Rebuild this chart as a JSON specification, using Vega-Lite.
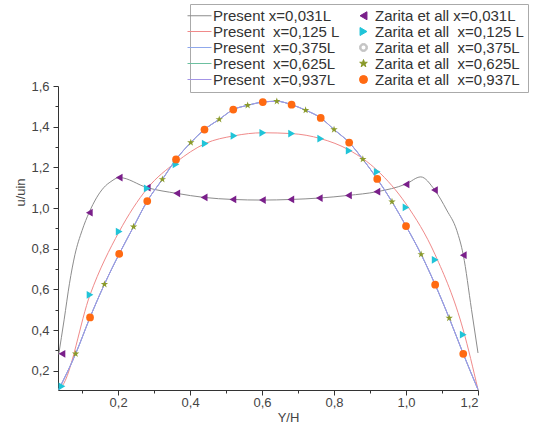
{
  "$schema": "https://vega.github.io/schema/vega-lite/v6.json",
  "width": 420,
  "height": 304,
  "autosize": {"type": "none"},
  "padding": {"left": 58, "top": 86, "right": 62, "bottom": 37},
  "background": "white",
  "config": {"view": {"stroke": null}, "font": "Liberation Sans"},
  "datasets": {
    "lines": [
      {"series": "Present x=0,031L", "x": 0.035, "y": 0.28},
      {"series": "Present x=0,031L", "x": 0.05, "y": 0.45},
      {"series": "Present x=0,031L", "x": 0.065, "y": 0.63},
      {"series": "Present x=0,031L", "x": 0.08, "y": 0.77},
      {"series": "Present x=0,031L", "x": 0.1, "y": 0.89},
      {"series": "Present x=0,031L", "x": 0.12, "y": 0.98},
      {"series": "Present x=0,031L", "x": 0.14, "y": 1.05},
      {"series": "Present x=0,031L", "x": 0.16, "y": 1.1},
      {"series": "Present x=0,031L", "x": 0.18, "y": 1.13},
      {"series": "Present x=0,031L", "x": 0.203, "y": 1.15},
      {"series": "Present x=0,031L", "x": 0.281, "y": 1.1},
      {"series": "Present x=0,031L", "x": 0.363, "y": 1.072},
      {"series": "Present x=0,031L", "x": 0.439, "y": 1.052},
      {"series": "Present x=0,031L", "x": 0.519, "y": 1.042},
      {"series": "Present x=0,031L", "x": 0.601, "y": 1.039},
      {"series": "Present x=0,031L", "x": 0.68, "y": 1.042},
      {"series": "Present x=0,031L", "x": 0.759, "y": 1.049},
      {"series": "Present x=0,031L", "x": 0.84, "y": 1.062},
      {"series": "Present x=0,031L", "x": 0.919, "y": 1.08},
      {"series": "Present x=0,031L", "x": 1.0, "y": 1.118},
      {"series": "Present x=0,031L", "x": 1.041, "y": 1.153},
      {"series": "Present x=0,031L", "x": 1.079, "y": 1.09},
      {"series": "Present x=0,031L", "x": 1.113, "y": 0.99},
      {"series": "Present x=0,031L", "x": 1.141, "y": 0.89},
      {"series": "Present x=0,031L", "x": 1.159, "y": 0.77},
      {"series": "Present x=0,031L", "x": 1.182, "y": 0.5},
      {"series": "Present x=0,031L", "x": 1.2, "y": 0.287},

      {"series": "Present\u00a0 x=0,125 L", "x": 0.035, "y": 0.107},
      {"series": "Present\u00a0 x=0,125 L", "x": 0.044, "y": 0.123},
      {"series": "Present\u00a0 x=0,125 L", "x": 0.122, "y": 0.573},
      {"series": "Present\u00a0 x=0,125 L", "x": 0.203, "y": 0.884},
      {"series": "Present\u00a0 x=0,125 L", "x": 0.281, "y": 1.096},
      {"series": "Present\u00a0 x=0,125 L", "x": 0.361, "y": 1.225},
      {"series": "Present\u00a0 x=0,125 L", "x": 0.442, "y": 1.317},
      {"series": "Present\u00a0 x=0,125 L", "x": 0.522, "y": 1.355},
      {"series": "Present\u00a0 x=0,125 L", "x": 0.602, "y": 1.37},
      {"series": "Present\u00a0 x=0,125 L", "x": 0.682, "y": 1.366},
      {"series": "Present\u00a0 x=0,125 L", "x": 0.763, "y": 1.341},
      {"series": "Present\u00a0 x=0,125 L", "x": 0.842, "y": 1.285},
      {"series": "Present\u00a0 x=0,125 L", "x": 0.92, "y": 1.185},
      {"series": "Present\u00a0 x=0,125 L", "x": 1.0, "y": 1.02},
      {"series": "Present\u00a0 x=0,125 L", "x": 1.081, "y": 0.77},
      {"series": "Present\u00a0 x=0,125 L", "x": 1.159, "y": 0.4},
      {"series": "Present\u00a0 x=0,125 L", "x": 1.2, "y": 0.107},

      {"series": "Present\u00a0 x=0,625L", "x": 0.035, "y": 0.107},
      {"series": "Present\u00a0 x=0,625L", "x": 0.082, "y": 0.283},
      {"series": "Present\u00a0 x=0,625L", "x": 0.122, "y": 0.462},
      {"series": "Present\u00a0 x=0,625L", "x": 0.162, "y": 0.625},
      {"series": "Present\u00a0 x=0,625L", "x": 0.203, "y": 0.774},
      {"series": "Present\u00a0 x=0,625L", "x": 0.243, "y": 0.908},
      {"series": "Present\u00a0 x=0,625L", "x": 0.281, "y": 1.034},
      {"series": "Present\u00a0 x=0,625L", "x": 0.323, "y": 1.141},
      {"series": "Present\u00a0 x=0,625L", "x": 0.361, "y": 1.239},
      {"series": "Present\u00a0 x=0,625L", "x": 0.402, "y": 1.322},
      {"series": "Present\u00a0 x=0,625L", "x": 0.44, "y": 1.386},
      {"series": "Present\u00a0 x=0,625L", "x": 0.481, "y": 1.436},
      {"series": "Present\u00a0 x=0,625L", "x": 0.52, "y": 1.484},
      {"series": "Present\u00a0 x=0,625L", "x": 0.56, "y": 1.505},
      {"series": "Present\u00a0 x=0,625L", "x": 0.602, "y": 1.521},
      {"series": "Present\u00a0 x=0,625L", "x": 0.641, "y": 1.525},
      {"series": "Present\u00a0 x=0,625L", "x": 0.682, "y": 1.508},
      {"series": "Present\u00a0 x=0,625L", "x": 0.721, "y": 1.481},
      {"series": "Present\u00a0 x=0,625L", "x": 0.763, "y": 1.443},
      {"series": "Present\u00a0 x=0,625L", "x": 0.8, "y": 1.386},
      {"series": "Present\u00a0 x=0,625L", "x": 0.842, "y": 1.322},
      {"series": "Present\u00a0 x=0,625L", "x": 0.88, "y": 1.24},
      {"series": "Present\u00a0 x=0,625L", "x": 0.92, "y": 1.143},
      {"series": "Present\u00a0 x=0,625L", "x": 0.961, "y": 1.031},
      {"series": "Present\u00a0 x=0,625L", "x": 1.0, "y": 0.911},
      {"series": "Present\u00a0 x=0,625L", "x": 1.042, "y": 0.772},
      {"series": "Present\u00a0 x=0,625L", "x": 1.081, "y": 0.623},
      {"series": "Present\u00a0 x=0,625L", "x": 1.12, "y": 0.459},
      {"series": "Present\u00a0 x=0,625L", "x": 1.159, "y": 0.283},
      {"series": "Present\u00a0 x=0,625L", "x": 1.2, "y": 0.107},

      {"series": "Present\u00a0 x=0,375L", "x": 0.035, "y": 0.107},
      {"series": "Present\u00a0 x=0,375L", "x": 0.082, "y": 0.283},
      {"series": "Present\u00a0 x=0,375L", "x": 0.122, "y": 0.462},
      {"series": "Present\u00a0 x=0,375L", "x": 0.162, "y": 0.625},
      {"series": "Present\u00a0 x=0,375L", "x": 0.203, "y": 0.774},
      {"series": "Present\u00a0 x=0,375L", "x": 0.243, "y": 0.908},
      {"series": "Present\u00a0 x=0,375L", "x": 0.281, "y": 1.034},
      {"series": "Present\u00a0 x=0,375L", "x": 0.323, "y": 1.141},
      {"series": "Present\u00a0 x=0,375L", "x": 0.361, "y": 1.239},
      {"series": "Present\u00a0 x=0,375L", "x": 0.402, "y": 1.322},
      {"series": "Present\u00a0 x=0,375L", "x": 0.44, "y": 1.386},
      {"series": "Present\u00a0 x=0,375L", "x": 0.481, "y": 1.436},
      {"series": "Present\u00a0 x=0,375L", "x": 0.52, "y": 1.484},
      {"series": "Present\u00a0 x=0,375L", "x": 0.56, "y": 1.505},
      {"series": "Present\u00a0 x=0,375L", "x": 0.602, "y": 1.521},
      {"series": "Present\u00a0 x=0,375L", "x": 0.641, "y": 1.525},
      {"series": "Present\u00a0 x=0,375L", "x": 0.682, "y": 1.508},
      {"series": "Present\u00a0 x=0,375L", "x": 0.721, "y": 1.481},
      {"series": "Present\u00a0 x=0,375L", "x": 0.763, "y": 1.443},
      {"series": "Present\u00a0 x=0,375L", "x": 0.8, "y": 1.386},
      {"series": "Present\u00a0 x=0,375L", "x": 0.842, "y": 1.322},
      {"series": "Present\u00a0 x=0,375L", "x": 0.88, "y": 1.24},
      {"series": "Present\u00a0 x=0,375L", "x": 0.92, "y": 1.143},
      {"series": "Present\u00a0 x=0,375L", "x": 0.961, "y": 1.031},
      {"series": "Present\u00a0 x=0,375L", "x": 1.0, "y": 0.911},
      {"series": "Present\u00a0 x=0,375L", "x": 1.042, "y": 0.772},
      {"series": "Present\u00a0 x=0,375L", "x": 1.081, "y": 0.623},
      {"series": "Present\u00a0 x=0,375L", "x": 1.12, "y": 0.459},
      {"series": "Present\u00a0 x=0,375L", "x": 1.159, "y": 0.283},
      {"series": "Present\u00a0 x=0,375L", "x": 1.2, "y": 0.107},

      {"series": "Present\u00a0 x=0,937L", "x": 0.035, "y": 0.107},
      {"series": "Present\u00a0 x=0,937L", "x": 0.082, "y": 0.283},
      {"series": "Present\u00a0 x=0,937L", "x": 0.122, "y": 0.462},
      {"series": "Present\u00a0 x=0,937L", "x": 0.162, "y": 0.625},
      {"series": "Present\u00a0 x=0,937L", "x": 0.203, "y": 0.774},
      {"series": "Present\u00a0 x=0,937L", "x": 0.243, "y": 0.908},
      {"series": "Present\u00a0 x=0,937L", "x": 0.281, "y": 1.034},
      {"series": "Present\u00a0 x=0,937L", "x": 0.323, "y": 1.141},
      {"series": "Present\u00a0 x=0,937L", "x": 0.361, "y": 1.239},
      {"series": "Present\u00a0 x=0,937L", "x": 0.402, "y": 1.322},
      {"series": "Present\u00a0 x=0,937L", "x": 0.44, "y": 1.386},
      {"series": "Present\u00a0 x=0,937L", "x": 0.481, "y": 1.436},
      {"series": "Present\u00a0 x=0,937L", "x": 0.52, "y": 1.484},
      {"series": "Present\u00a0 x=0,937L", "x": 0.56, "y": 1.505},
      {"series": "Present\u00a0 x=0,937L", "x": 0.602, "y": 1.521},
      {"series": "Present\u00a0 x=0,937L", "x": 0.641, "y": 1.525},
      {"series": "Present\u00a0 x=0,937L", "x": 0.682, "y": 1.508},
      {"series": "Present\u00a0 x=0,937L", "x": 0.721, "y": 1.481},
      {"series": "Present\u00a0 x=0,937L", "x": 0.763, "y": 1.443},
      {"series": "Present\u00a0 x=0,937L", "x": 0.8, "y": 1.386},
      {"series": "Present\u00a0 x=0,937L", "x": 0.842, "y": 1.322},
      {"series": "Present\u00a0 x=0,937L", "x": 0.88, "y": 1.24},
      {"series": "Present\u00a0 x=0,937L", "x": 0.92, "y": 1.143},
      {"series": "Present\u00a0 x=0,937L", "x": 0.961, "y": 1.031},
      {"series": "Present\u00a0 x=0,937L", "x": 1.0, "y": 0.911},
      {"series": "Present\u00a0 x=0,937L", "x": 1.042, "y": 0.772},
      {"series": "Present\u00a0 x=0,937L", "x": 1.081, "y": 0.623},
      {"series": "Present\u00a0 x=0,937L", "x": 1.12, "y": 0.459},
      {"series": "Present\u00a0 x=0,937L", "x": 1.159, "y": 0.283},
      {"series": "Present\u00a0 x=0,937L", "x": 1.2, "y": 0.107}
    ],
    "points": [
      {"series": "Zarita et all x=0,031L", "x": 0.044, "y": 0.283},
      {"series": "Zarita et all x=0,031L", "x": 0.12, "y": 0.977},
      {"series": "Zarita et all x=0,031L", "x": 0.203, "y": 1.15},
      {"series": "Zarita et all x=0,031L", "x": 0.281, "y": 1.1},
      {"series": "Zarita et all x=0,031L", "x": 0.363, "y": 1.072},
      {"series": "Zarita et all x=0,031L", "x": 0.439, "y": 1.052},
      {"series": "Zarita et all x=0,031L", "x": 0.519, "y": 1.042},
      {"series": "Zarita et all x=0,031L", "x": 0.601, "y": 1.039},
      {"series": "Zarita et all x=0,031L", "x": 0.68, "y": 1.042},
      {"series": "Zarita et all x=0,031L", "x": 0.759, "y": 1.049},
      {"series": "Zarita et all x=0,031L", "x": 0.84, "y": 1.062},
      {"series": "Zarita et all x=0,031L", "x": 0.919, "y": 1.08},
      {"series": "Zarita et all x=0,031L", "x": 1.0, "y": 1.116},
      {"series": "Zarita et all x=0,031L", "x": 1.079, "y": 1.088},
      {"series": "Zarita et all x=0,031L", "x": 1.159, "y": 0.768},

      {"series": "Zarita et all\u00a0 x=0,125 L", "x": 0.044, "y": 0.123},
      {"series": "Zarita et all\u00a0 x=0,125 L", "x": 0.122, "y": 0.573},
      {"series": "Zarita et all\u00a0 x=0,125 L", "x": 0.203, "y": 0.884},
      {"series": "Zarita et all\u00a0 x=0,125 L", "x": 0.281, "y": 1.096},
      {"series": "Zarita et all\u00a0 x=0,125 L", "x": 0.361, "y": 1.215},
      {"series": "Zarita et all\u00a0 x=0,125 L", "x": 0.442, "y": 1.317},
      {"series": "Zarita et all\u00a0 x=0,125 L", "x": 0.522, "y": 1.355},
      {"series": "Zarita et all\u00a0 x=0,125 L", "x": 0.602, "y": 1.37},
      {"series": "Zarita et all\u00a0 x=0,125 L", "x": 0.682, "y": 1.366},
      {"series": "Zarita et all\u00a0 x=0,125 L", "x": 0.763, "y": 1.341},
      {"series": "Zarita et all\u00a0 x=0,125 L", "x": 0.842, "y": 1.282},
      {"series": "Zarita et all\u00a0 x=0,125 L", "x": 0.92, "y": 1.178},
      {"series": "Zarita et all\u00a0 x=0,125 L", "x": 1.0, "y": 1.003},
      {"series": "Zarita et all\u00a0 x=0,125 L", "x": 1.081, "y": 0.745},
      {"series": "Zarita et all\u00a0 x=0,125 L", "x": 1.159, "y": 0.377},

      {"series": "Zarita et all\u00a0 x=0,625L", "x": 0.082, "y": 0.283},
      {"series": "Zarita et all\u00a0 x=0,625L", "x": 0.162, "y": 0.625},
      {"series": "Zarita et all\u00a0 x=0,625L", "x": 0.243, "y": 0.908},
      {"series": "Zarita et all\u00a0 x=0,625L", "x": 0.323, "y": 1.141},
      {"series": "Zarita et all\u00a0 x=0,625L", "x": 0.402, "y": 1.322},
      {"series": "Zarita et all\u00a0 x=0,625L", "x": 0.481, "y": 1.436},
      {"series": "Zarita et all\u00a0 x=0,625L", "x": 0.56, "y": 1.505},
      {"series": "Zarita et all\u00a0 x=0,625L", "x": 0.641, "y": 1.525},
      {"series": "Zarita et all\u00a0 x=0,625L", "x": 0.721, "y": 1.481},
      {"series": "Zarita et all\u00a0 x=0,625L", "x": 0.8, "y": 1.386},
      {"series": "Zarita et all\u00a0 x=0,625L", "x": 0.88, "y": 1.24},
      {"series": "Zarita et all\u00a0 x=0,625L", "x": 0.961, "y": 1.031},
      {"series": "Zarita et all\u00a0 x=0,625L", "x": 1.042, "y": 0.772},
      {"series": "Zarita et all\u00a0 x=0,625L", "x": 1.12, "y": 0.459},

      {"series": "Zarita et all\u00a0 x=0,937L", "x": 0.122, "y": 0.462},
      {"series": "Zarita et all\u00a0 x=0,937L", "x": 0.203, "y": 0.774},
      {"series": "Zarita et all\u00a0 x=0,937L", "x": 0.281, "y": 1.034},
      {"series": "Zarita et all\u00a0 x=0,937L", "x": 0.361, "y": 1.239},
      {"series": "Zarita et all\u00a0 x=0,937L", "x": 0.44, "y": 1.386},
      {"series": "Zarita et all\u00a0 x=0,937L", "x": 0.52, "y": 1.484},
      {"series": "Zarita et all\u00a0 x=0,937L", "x": 0.602, "y": 1.521},
      {"series": "Zarita et all\u00a0 x=0,937L", "x": 0.682, "y": 1.508},
      {"series": "Zarita et all\u00a0 x=0,937L", "x": 0.763, "y": 1.443},
      {"series": "Zarita et all\u00a0 x=0,937L", "x": 0.842, "y": 1.322},
      {"series": "Zarita et all\u00a0 x=0,937L", "x": 0.92, "y": 1.143},
      {"series": "Zarita et all\u00a0 x=0,937L", "x": 1.0, "y": 0.911},
      {"series": "Zarita et all\u00a0 x=0,937L", "x": 1.081, "y": 0.623},
      {"series": "Zarita et all\u00a0 x=0,937L", "x": 1.159, "y": 0.283}
    ]
  },
  "encoding": {
    "x": {
      "field": "x", "type": "quantitative",
      "scale": {"domain": [0.033, 1.2], "nice": false, "zero": false},
      "axis": {
        "title": "Y/H",
        "values": [0.1, 0.2, 0.3, 0.4, 0.5, 0.6, 0.7, 0.8, 0.9, 1.0, 1.1, 1.2],
        "labelExpr": "round(datum.value*10)%2==0 ? replace(format(datum.value,'.1f'),'.',',') : ''",
        "tickSize": {"condition": {"test": "round(datum.value*10)%2==0", "value": 5}, "value": 3},
        "grid": false,
        "domainColor": "#333", "tickColor": "#333",
        "labelFont": "Liberation Sans", "labelFontSize": 13, "labelColor": "#444",
        "labelPadding": 1,
        "titleFont": "Liberation Sans", "titleFontSize": 13, "titleFontWeight": "normal", "titleColor": "#444",
        "titleX": 230, "titleY": 27, "titleBaseline": "middle", "titleAlign": "center"
      }
    },
    "y": {
      "field": "y", "type": "quantitative",
      "scale": {"domain": [0.105, 1.6], "nice": false, "zero": false},
      "axis": {
        "title": "u/uin",
        "values": [0.2, 0.3, 0.4, 0.5, 0.6, 0.7, 0.8, 0.9, 1.0, 1.1, 1.2, 1.3, 1.4, 1.5, 1.6],
        "labelExpr": "round(datum.value*10)%2==0 ? replace(format(datum.value,'.1f'),'.',',') : ''",
        "tickSize": {"condition": {"test": "round(datum.value*10)%2==0", "value": 5}, "value": 3},
        "grid": false,
        "domainColor": "#333", "tickColor": "#333",
        "labelFont": "Liberation Sans", "labelFontSize": 13, "labelColor": "#444",
        "labelPadding": 4,
        "titleFont": "Liberation Sans", "titleFontSize": 13, "titleFontWeight": "normal", "titleColor": "#444",
        "titleX": -38, "titleY": 106, "titleBaseline": "middle", "titleAlign": "center"
      }
    },
    "color": {
      "field": "series", "type": "nominal",
      "scale": {
        "domain": ["Present x=0,031L", "Present\u00a0 x=0,125 L", "Present\u00a0 x=0,375L", "Present\u00a0 x=0,625L", "Present\u00a0 x=0,937L", "Zarita et all x=0,031L", "Zarita et all\u00a0 x=0,125 L", "Zarita et all\u00a0 x=0,375L", "Zarita et all\u00a0 x=0,625L", "Zarita et all\u00a0 x=0,937L"],
        "range": ["#8c8c8c", "#f08a8a", "#8fa8ec", "#6cc0a0", "#a394e6", "#7a1f8a", "#20c4d8", "#c4c4c4", "#8a9a2a", "#ff6a12"]
      },
      "legend": {
        "orient": "none", "legendX": 132, "legendY": -82,
        "columns": 2, "title": null,
        "symbolSize": 64, "symbolStrokeWidth": 1,
        "labelFont": "Liberation Sans", "labelFontSize": 15, "labelColor": "#333",
        "labelOffset": 4, "rowPadding": 0, "columnPadding": 16,
        "padding": 4, "strokeColor": "#aaa",
        "encode": {"symbols": {"update": {"stroke": {"scale": "color", "field": "value"}}}}
      }
    }
  },
  "layer": [
    {
      "data": {"name": "lines"},
      "mark": {"type": "line", "strokeWidth": 1, "interpolate": "monotone"}
    },
    {
      "data": {"name": "points"},
      "mark": {"type": "point", "filled": true, "size": 60, "opacity": 1},
      "encoding": {
        "shape": {
          "field": "series", "type": "nominal",
          "scale": {
            "domain": ["Present x=0,031L", "Present\u00a0 x=0,125 L", "Present\u00a0 x=0,375L", "Present\u00a0 x=0,625L", "Present\u00a0 x=0,937L", "Zarita et all x=0,031L", "Zarita et all\u00a0 x=0,125 L", "Zarita et all\u00a0 x=0,375L", "Zarita et all\u00a0 x=0,625L", "Zarita et all\u00a0 x=0,937L"],
            "range": ["M-3.5,0L2.5,0", "M-3.5,0L2.5,0", "M-3.5,0L2.5,0", "M-3.5,0L2.5,0", "M-3.5,0L2.5,0", "triangle-left", "triangle-right", "M0,-1A1,1,0,1,1,0,1A1,1,0,1,1,0,-1ZM0,-0.6A0.6,0.6,0,1,0,0,0.6A0.6,0.6,0,1,0,0,-0.6Z", "M0,-1L0.2245,-0.309L0.9511,-0.309L0.3633,0.118L0.5878,0.809L0,0.382L-0.5878,0.809L-0.3633,0.118L-0.9511,-0.309L-0.2245,-0.309Z", "circle"]
          }
        }
      }
    }
  ]
}
